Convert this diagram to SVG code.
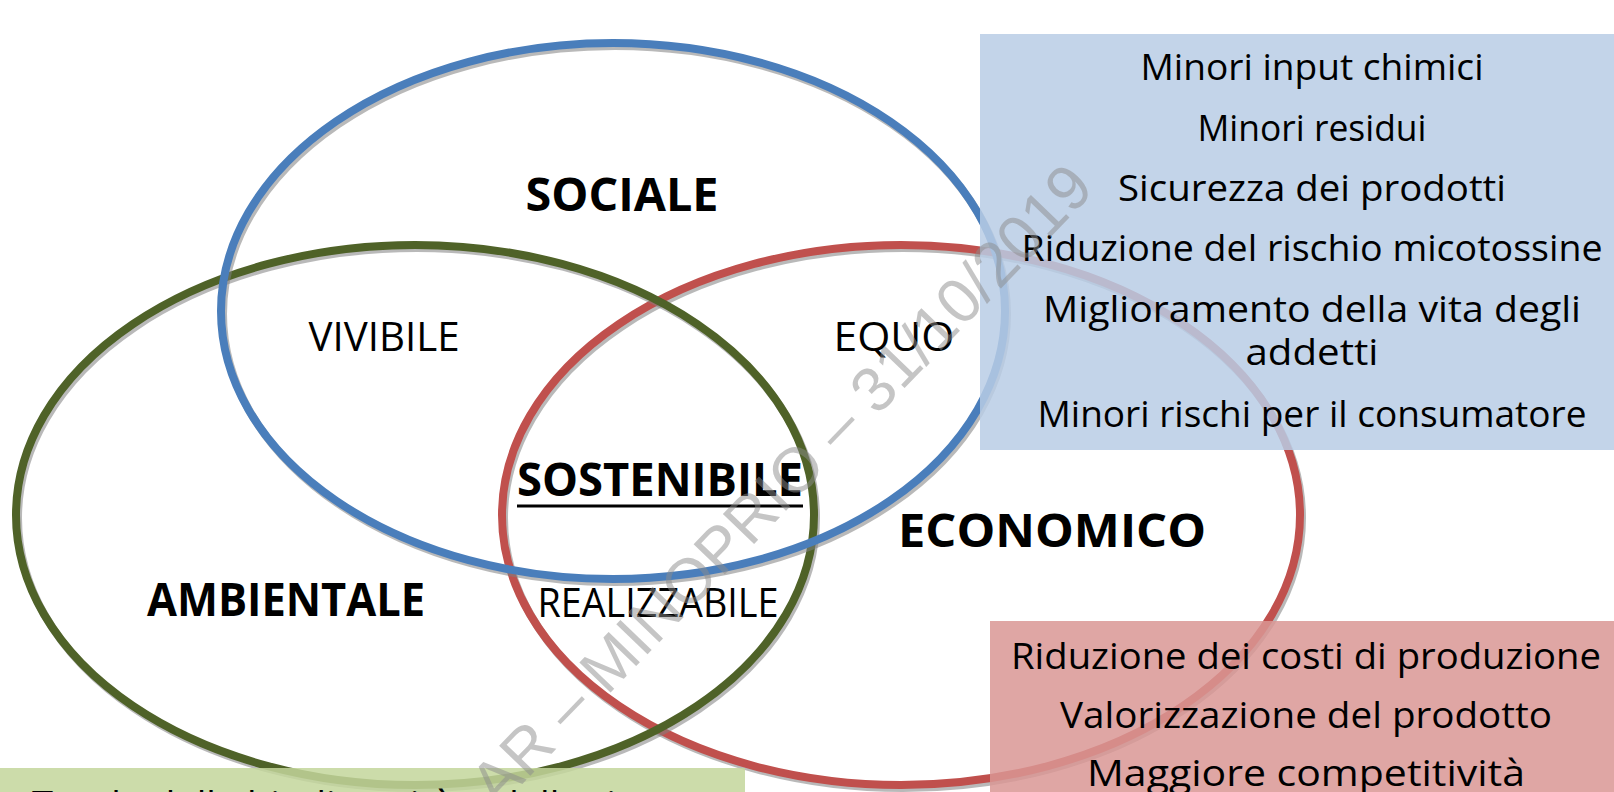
<svg xmlns="http://www.w3.org/2000/svg" width="1614" height="792" viewBox="0 0 1614 792">
<style>
.ell{fill:none;stroke-width:8}
.shd{fill:none;stroke:#7f7f7f;stroke-width:8;opacity:.55}
.t{font-family:"Open Sans","Liberation Sans",sans-serif;fill:#000;text-anchor:middle}
.big{font-weight:700;font-size:46px}
.mid{font-weight:400;font-size:40px}
.bx{font-weight:400;font-size:37px}
.wm{font-family:"Liberation Sans",Arial,sans-serif;font-size:63px;fill:#8c8c8c;opacity:.5;text-anchor:end}
</style>
<rect x="0" y="0" width="1614" height="792" fill="#ffffff"/>

<g id="economico">
  <ellipse class="shd" cx="903" cy="518" rx="399" ry="270"/>
  <ellipse class="ell" cx="901" cy="515" rx="399" ry="270" stroke="#c0504d"/>
  <text class="t big" x="1052" y="547" textLength="308" lengthAdjust="spacingAndGlyphs">ECONOMICO</text>
</g>
<g id="ambientale">
  <ellipse class="shd" cx="417" cy="518" rx="399" ry="270"/>
  <ellipse class="ell" cx="415" cy="515" rx="399" ry="270" stroke="#4f6228"/>
  <text class="t big" x="286" y="616" textLength="278" lengthAdjust="spacingAndGlyphs">AMBIENTALE</text>
</g>
<g id="sociale">
  <ellipse class="shd" cx="615" cy="314" rx="392" ry="268"/>
  <ellipse class="ell" cx="613" cy="311" rx="392" ry="268" stroke="#4a7ebb"/>
  <text class="t big" x="622" y="211" textLength="193" lengthAdjust="spacingAndGlyphs">SOCIALE</text>
</g>

<g id="vivibile">
  <text class="t mid" x="384" y="351" textLength="151" lengthAdjust="spacingAndGlyphs">VIVIBILE</text>
</g>
<g id="equo">
  <text class="t mid" x="894" y="351" textLength="121" lengthAdjust="spacingAndGlyphs">EQUO</text>
</g>
<g id="realizzabile">
  <text class="t mid" x="658" y="617" textLength="241" lengthAdjust="spacingAndGlyphs">REALIZZABILE</text>
</g>
<g id="sostenibile">
  <text class="t big" x="660" y="496" textLength="286" lengthAdjust="spacingAndGlyphs">SOSTENIBILE</text>
  <line x1="517" y1="506" x2="803" y2="506" stroke="#000" stroke-width="3"/>
</g>

<g id="box-sociale">
  <rect x="980" y="34" width="660" height="416" fill="#b9cde5" opacity="0.85"/>
  <text class="t bx" x="1312" y="80" textLength="343" lengthAdjust="spacingAndGlyphs">Minori input chimici</text>
  <text class="t bx" x="1312" y="141" textLength="229" lengthAdjust="spacingAndGlyphs">Minori residui</text>
  <text class="t bx" x="1312" y="201" textLength="388" lengthAdjust="spacingAndGlyphs">Sicurezza dei prodotti</text>
  <text class="t bx" x="1312" y="261" textLength="581" lengthAdjust="spacingAndGlyphs">Riduzione del rischio micotossine</text>
  <text class="t bx" x="1312" y="322" textLength="538" lengthAdjust="spacingAndGlyphs">Miglioramento della vita degli</text>
  <text class="t bx" x="1312" y="365" textLength="133" lengthAdjust="spacingAndGlyphs">addetti</text>
  <text class="t bx" x="1312" y="427" textLength="549" lengthAdjust="spacingAndGlyphs">Minori rischi per il consumatore</text>
</g>

<g id="box-economico">
  <rect x="990" y="621" width="650" height="200" fill="#d99694" opacity="0.85"/>
  <text class="t bx" x="1306" y="669" textLength="590" lengthAdjust="spacingAndGlyphs">Riduzione dei costi di produzione</text>
  <text class="t bx" x="1306" y="728" textLength="492" lengthAdjust="spacingAndGlyphs">Valorizzazione del prodotto</text>
  <text class="t bx" x="1306" y="786" textLength="438" lengthAdjust="spacingAndGlyphs">Maggiore competitività</text>
</g>

<g id="box-ambientale">
  <rect x="0" y="768" width="745" height="60" fill="#c3d69b" opacity="0.85"/>
  <text class="t bx" x="372" y="817" textLength="680" lengthAdjust="spacingAndGlyphs">Tutela della biodiversità e delle risorse</text>
</g>

<g id="watermark">
  <text class="wm" transform="translate(1096,190) rotate(-46)">AR – MINOPRIO – 31/10/2019</text>
</g>
</svg>
